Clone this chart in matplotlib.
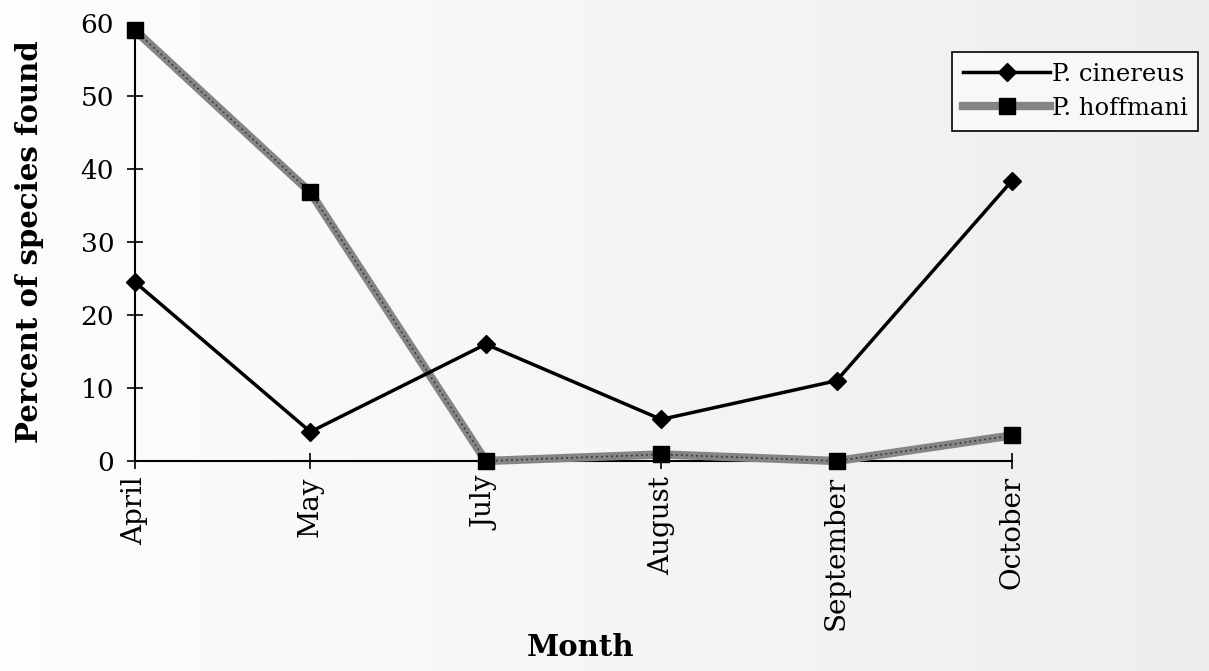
import matplotlib
matplotlib.use("Agg")
import matplotlib.pyplot as plt
import numpy as np

months = ["April", "May", "July", "August", "September", "October"]
cinereus = [24.5, 4.0, 16.0, 5.7, 11.0, 38.4]
hoffmani = [59.0, 36.8, 0.0, 0.9, 0.0, 3.5]
y_ticks = [0, 10, 20, 30, 40, 50, 60]

plt.rcParams["font.family"] = ["DejaVu Serif", "Liberation Serif"]

fig = plt.figure(figsize=(12.09, 6.71), dpi=100)
fig.patch.set_facecolor("#f6f6f6")

# soft horizontal shading of the page
bg = fig.add_axes([0, 0, 1, 1], zorder=-10)
grad = np.linspace(0.99, 0.93, 256).reshape(1, -1)
bg.imshow(grad, cmap="gray", vmin=0, vmax=1, aspect="auto", extent=[0, 1, 0, 1])
bg.axis("off")

ax = fig.add_axes([135 / 1209, 1 - 461 / 671, (1012 - 135) / 1209, (461 - 23) / 671])
ax.patch.set_alpha(0)

x = np.arange(len(months))

# P. hoffmani: broad grey band with dark speckle, black squares
ax.plot(x, hoffmani, color="#858585", lw=6, solid_capstyle="butt", zorder=3, clip_on=False)
ax.plot(x, hoffmani, color="#333333", lw=1.2, ls=(0, (1, 2)), zorder=3, clip_on=False)
ax.plot(x, hoffmani, ls="none", marker="s", ms=12, color="black", zorder=5, clip_on=False)
h_handle, = ax.plot([], [], color="#858585", lw=6, marker="s", ms=12,
                    mfc="black", mec="black", label="P. hoffmani")

# P. cinereus: black line, black diamonds
c_handle, = ax.plot(x, cinereus, color="black", lw=2.5, marker="D", ms=9,
                    zorder=6, clip_on=False, label="P. cinereus")

ax.set_xlim(0, len(months) - 1)
ax.set_ylim(0, 60)
ax.set_xticks(x)
ax.set_xticklabels(months, rotation=90, fontsize=20)
ax.set_yticks(y_ticks)
ax.set_yticklabels([str(v) for v in y_ticks], fontsize=19)
ax.tick_params(axis="both", direction="inout", length=12, width=1.2)
ax.tick_params(axis="x", pad=5)
ax.tick_params(axis="y", pad=9)

for side in ("top", "right"):
    ax.spines[side].set_visible(False)
for side in ("left", "bottom"):
    ax.spines[side].set_linewidth(1.5)

ax.set_ylabel("Percent of species found", fontsize=21, fontweight="bold", labelpad=26)
fig.text(580 / 1209, 1 - 648 / 671, "Month", fontsize=21, fontweight="bold",
         ha="center", va="center")

leg = fig.legend(handles=[c_handle, h_handle], loc="upper left",
                 bbox_to_anchor=(952 / 1209, 1 - 52 / 671), fontsize=17.5,
                 frameon=True, fancybox=False, edgecolor="black",
                 facecolor="#f8f8f8", framealpha=1, handlelength=3.6,
                 handletextpad=0.05, borderpad=0.45, labelspacing=0.45,
                 borderaxespad=0)
leg.get_frame().set_linewidth(1.2)

fig.savefig("out.png", dpi=100, facecolor=fig.get_facecolor())
